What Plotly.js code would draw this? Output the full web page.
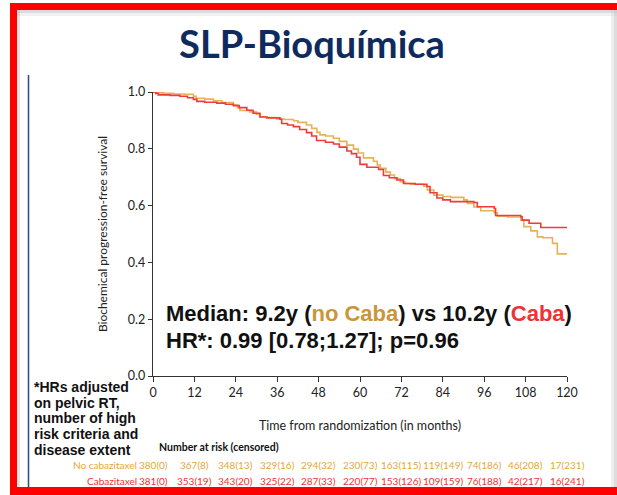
<!DOCTYPE html>
<html>
<head>
<meta charset="utf-8">
<script src="https://cdn.plot.ly/plotly-3.0.1.min.js"></script>
<style>html,body{margin:0;padding:0;background:#fff;}#chart{width:617px;height:495px;}</style>
</head>
<body>
<div id="chart"></div>
<script>
// ---------------- data ----------------
const timeNoCaba = [0,1,3,6,9,11.7,12.5,15,17.5,20,23.3,24.5,25.2,28,30,31,33,35.8,38,40.7,42,44.5,46,47.5,48.4,50,52.3,54,56.2,58.1,59.5,61,63.9,65,65.9,67.5,68.8,70,71.7,73,74.6,78.5,79.5,81.4,84,86.3,90.1,91.1,93,95,98.9,99.8,102.7,106.6,107.5,109.5,111.4,113,115.8,117.2,121];
const survNoCaba = [1.0,0.997,0.995,0.993,0.992,0.985,0.978,0.975,0.969,0.963,0.954,0.945,0.935,0.930,0.922,0.913,0.910,0.905,0.903,0.899,0.893,0.884,0.872,0.858,0.849,0.845,0.837,0.826,0.813,0.799,0.785,0.768,0.756,0.743,0.731,0.718,0.708,0.695,0.684,0.678,0.675,0.668,0.655,0.637,0.632,0.629,0.620,0.608,0.595,0.582,0.575,0.563,0.560,0.549,0.526,0.511,0.490,0.487,0.467,0.430,0.430];
const timeCaba = [0,0.8,1.5,5,7.8,10,11.7,12.7,15,18.5,21,23.3,25,27.2,29,31,33,36.8,37.3,39,40.7,42.5,44.5,46,47.4,50,52.3,54,56.2,57.5,59,60,62,65.4,66.8,68.5,70.7,72.6,76,79.4,80.3,82.3,84,86.2,93,94,98.9,99.3,106.6,107,109,112.4,121];
const survCaba = [1.0,0.995,0.990,0.988,0.985,0.980,0.974,0.967,0.964,0.961,0.957,0.952,0.945,0.936,0.925,0.912,0.909,0.904,0.889,0.884,0.878,0.868,0.857,0.845,0.829,0.823,0.817,0.806,0.792,0.783,0.770,0.745,0.735,0.727,0.706,0.698,0.690,0.678,0.675,0.667,0.645,0.627,0.620,0.614,0.611,0.596,0.590,0.565,0.561,0.549,0.538,0.523,0.523];

const riskTimes = [0,12,24,36,48,60,72,84,96,108,120];
const riskNoCaba = ["380(0)","367(8)","348(13)","329(16)","294(32)","230(73)","163(115)","119(149)","74(186)","46(208)","17(231)"];
const riskCaba = ["381(0)","353(19)","343(20)","325(22)","287(33)","220(77)","153(126)","109(159)","76(188)","42(217)","16(241)"];
const groupNames = ["No cabazitaxel","Cabazitaxel"];
const yTickVals = [0,0.2,0.4,0.6,0.8,1.0];

const titleText = "SLP-Bioquímica";
const xTitle = "Time from randomization (in months)";
const yTitle = "Biochemical progression-free survival";
const medianText = 'Median: 9.2y (<span style="color:#C9963B">no Caba</span>) vs 10.2y (<span style="color:#EE3333">Caba</span>)';
const hrText = "HR*: 0.99 [0.78;1.27]; p=0.96";
const noteLines = ["*HRs adjusted","on pelvic RT,","number of high","risk criteria and","disease extent"];
const riskHeader = "Number at risk (censored)";

// ---------------- layout helpers ----------------
const W = 617, H = 495;
const M = {l:153, r:50, t:92, b:119};
const PW = W - M.l - M.r, PH = H - M.t - M.b;
const PX = p => (p - M.l) / PW;
const PY = p => (H - M.b - p) / PH;

const GOLD = '#E6B256', RED = '#EF3B3B';
const GOLD_T = '#E5A73A', RED_T = '#EE3333';

const traces = [
  {x: timeNoCaba, y: survNoCaba, type:'scatter', mode:'lines', line:{shape:'hv', color:GOLD, width:1.6}, name:'No cabazitaxel', cliponaxis:false, hoverinfo:'skip'},
  {x: timeCaba, y: survCaba, type:'scatter', mode:'lines', line:{shape:'hv', color:RED, width:1.6}, name:'Cabazitaxel', cliponaxis:false, hoverinfo:'skip'}
];

const ann = [];
// median / HR
ann.push({xref:'paper', yref:'paper', x:PX(164), y:PY(313), xanchor:'left', yanchor:'middle', showarrow:false,
  text:'<b>'+medianText+'</b>', font:{family:'Liberation Sans, Arial', size:22, color:'#111'}});
ann.push({xref:'paper', yref:'paper', x:PX(164), y:PY(340), xanchor:'left', yanchor:'middle', showarrow:false,
  text:'<b>'+hrText+'</b>', font:{family:'Liberation Sans, Arial', size:22, color:'#111'}});
// note
noteLines.forEach((t,i) => ann.push({xref:'paper', yref:'paper', x:PX(32), y:PY(387 + 15.7*i), xanchor:'left', yanchor:'middle', showarrow:false,
  text:'<b>'+t+'</b>', font:{family:'Liberation Sans, Arial', size:14, color:'#111'}}));
// risk table
ann.push({xref:'paper', yref:'paper', x:PX(157), y:PY(447), xanchor:'left', yanchor:'middle', showarrow:false,
  text:'<b>'+riskHeader+'</b>', font:{family:'Lato', size:10.5, color:'#111'}});
const rows = [{vals:riskNoCaba, color:GOLD_T, y:465, name:groupNames[0]}, {vals:riskCaba, color:RED_T, y:481.5, name:groupNames[1]}];
rows.forEach(r => {
  ann.push({xref:'paper', yref:'paper', x:PX(139), y:PY(r.y), xanchor:'right', yanchor:'middle', showarrow:false,
    text:r.name, font:{family:'Lato', size:10, color:r.color}});
  r.vals.forEach((v,i) => ann.push({xref:'x', yref:'paper', x:riskTimes[i], y:PY(r.y), xanchor:'center', yanchor:'middle', showarrow:false,
    text:v, font:{family:'Lato', size:10, color:r.color}}));
});

// frame shapes
const rect = (x0,y0,x1,y1,color,opacity) => ({type:'rect', xref:'paper', yref:'paper', x0:PX(x0), x1:PX(x1), y0:PY(y1), y1:PY(y0), fillcolor:color, line:{width:0}, opacity:opacity===undefined?1:opacity, layer:'above'});
const shapes = [
  rect(17,10,617,13,'#9a9a9a',0.35),
  rect(17,13,617,16,'#bbbbbb',0.2),
  rect(17,10,20,487,'#9a9a9a',0.25),
  rect(611,10,617,487,'#cfcfcf',0.35),
  rect(614,10,617,487,'#bdbdbd',0.35),
  rect(10,3,617,10,'#FF0000'),
  rect(10,3,17,495,'#FF0000'),
  rect(10,487,617,495,'#FF0000'),
  {type:'line', xref:'paper', yref:'paper', x0:PX(28.5), x1:PX(28.5), y0:PY(75), y1:PY(487), line:{color:'#2B4A86', width:1.5}}
];

const layout = {
  width:W, height:H, margin:M, paper_bgcolor:'#fff', plot_bgcolor:'#fff', showlegend:false,
  title:{text:'<b>'+titleText+'</b>', x:312/W, xanchor:'center', y:1-45/H, yanchor:'middle', yref:'container', xref:'container',
    font:{family:'Lato', size:38, color:'#0E2A5E'}},
  xaxis:{range:[0,120], tickvals:riskTimes, ticktext:riskTimes.map(String), showline:true, linecolor:'#333', linewidth:1.2,
    ticks:'outside', ticklen:5, tickcolor:'#333', showgrid:false, zeroline:false, fixedrange:true,
    tickfont:{family:'Lato', size:12.5, color:'#222'},
    title:{text:xTitle, standoff:22, font:{family:'Lato', size:12.5, color:'#222'}}},
  yaxis:{range:[0,1], tickvals:yTickVals, ticktext:yTickVals.map(v=>v.toFixed(1)), showline:true, linecolor:'#333', linewidth:1.2,
    ticks:'outside', ticklen:4, tickcolor:'#333', showgrid:false, zeroline:false, fixedrange:true,
    tickfont:{family:'Lato', size:12.5, color:'#222'},
    title:{text:yTitle, standoff:17, font:{family:'Lato', size:12, color:'#222'}}},
  annotations:ann, shapes:shapes
};

Plotly.newPlot('chart', traces, layout, {staticPlot:true, displayModeBar:false});
</script>
</body>
</html>
